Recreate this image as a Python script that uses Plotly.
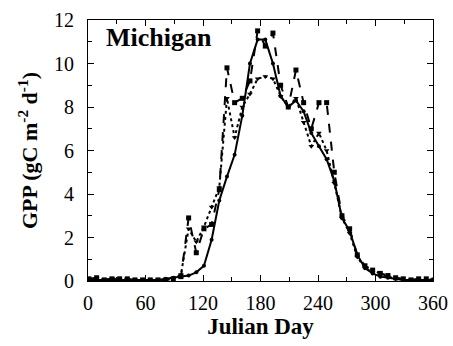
import plotly.graph_objects as go

days = [1 + 8 * i for i in range(46)]

# solid line
gpp_solid = [0.05, 0.05, 0.05, 0.05, 0.05, 0.05, 0.05, 0.05, 0.05, 0.05, 0.1, 0.15,
             0.2, 0.25, 0.4, 0.7, 1.9, 3.7, 4.8, 5.8, 7.6, 10.0, 11.1, 11.1, 10.0, 8.5,
             8.0, 8.3, 7.8, 6.8, 6.2, 5.6, 4.6, 2.9, 2.3, 1.2, 0.6, 0.35, 0.2, 0.15,
             0.1, 0.05, 0.05, 0.05, 0.05, 0.05]

# dashed line with squares
gpp_dashed = [0.1, 0.15, 0.05, 0.1, 0.1, 0.1, 0.05, 0.05, 0.05, 0.05, 0.05, 0.1,
              0.2, 2.9, 1.3, 2.4, 2.6, 4.2, 9.8, 8.2, 8.4, 9.2, 11.5, 10.8, 11.4, 9.0,
              8.0, 9.7, 8.2, 7.0, 8.2, 8.2, 5.0, 3.0, 2.4, 1.2, 0.7, 0.5, 0.35, 0.25,
              0.15, 0.1, 0.05, 0.1, 0.1, 0.05]

# dotted line with triangles
gpp_dotted = [0.05, 0.1, 0.05, 0.1, 0.05, 0.05, 0.05, 0.05, 0.05, 0.05, 0.05, 0.1,
              0.3, 2.4, 1.8, 2.5, 3.4, 4.3, 8.4, 6.6, 8.0, 8.6, 9.3, 9.4, 9.3, 8.5,
              8.0, 8.4, 7.3, 6.2, 6.8, 6.0, 4.5, 2.9, 2.2, 1.1, 0.6, 0.4, 0.3, 0.2,
              0.1, 0.05, 0.05, 0.05, 0.05, 0.05]

x_ticks = [0, 60, 120, 180, 240, 300, 360]
y_ticks = [0, 2, 4, 6, 8, 10, 12]

fig = go.Figure()
fig.add_trace(go.Scatter(x=days, y=gpp_solid, mode="lines+markers",
                         line=dict(color="black", width=2),
                         marker=dict(symbol="circle", size=4, color="black")))
fig.add_trace(go.Scatter(x=days, y=gpp_dashed, mode="lines+markers",
                         line=dict(color="black", width=2, dash="dash"),
                         marker=dict(symbol="square", size=5, color="black")))
fig.add_trace(go.Scatter(x=days, y=gpp_dotted, mode="lines+markers",
                         line=dict(color="black", width=2, dash="dot"),
                         marker=dict(symbol="triangle-down", size=5, color="black")))

font_family = "Liberation Serif"
fig.update_layout(
    width=453, height=346,
    margin=dict(l=88, r=20, t=20, b=65, autoexpand=False),
    paper_bgcolor="white", plot_bgcolor="white",
    showlegend=False,
    font=dict(family=font_family, color="black", size=20),
    annotations=[dict(text="<b>Michigan</b>", x=0.045, y=0.995, xref="paper", yref="paper",
                      xanchor="left", yanchor="top", showarrow=False,
                      font=dict(family=font_family, size=26, color="black"))],
)
fig.update_xaxes(range=[0, 360], tickvals=x_ticks, ticks="inside", ticklen=6,
                 tickcolor="black", showline=True, linecolor="black", linewidth=1,
                 mirror="ticks", showgrid=False, zeroline=False, automargin=False,
                 ticklabelstandoff=4,
                 minor=dict(dtick=30, ticks="inside", ticklen=4, tickcolor="black"),
                 tickfont=dict(size=20, family=font_family),
                 title=dict(text="<b>Julian Day</b>", font=dict(size=23, family=font_family), standoff=4))
fig.update_yaxes(range=[0, 12], tickvals=y_ticks, ticks="inside", ticklen=6,
                 tickcolor="black", showline=True, linecolor="black", linewidth=1,
                 mirror="ticks", showgrid=False, zeroline=False, automargin=False,
                 ticklabelstandoff=9,
                 minor=dict(dtick=1, ticks="inside", ticklen=4, tickcolor="black"),
                 tickfont=dict(size=20, family=font_family),
                 title=dict(text="<b>GPP (gC m<sup>-2</sup> d<sup>-1</sup>)</b>",
                            font=dict(size=22, family=font_family), standoff=10))

fig.write_html("out.html", config={"displayModeBar": False},
               post_script="document.body.style.margin='0';document.body.style.overflow='hidden';")
